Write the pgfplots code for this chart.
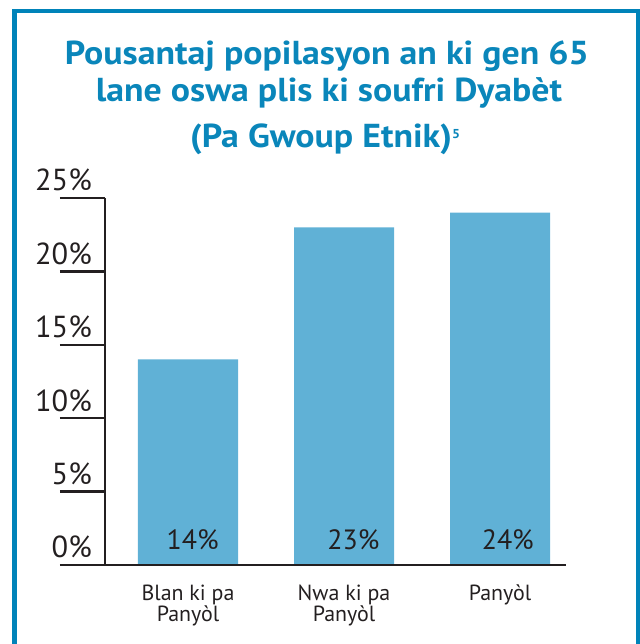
\documentclass[border=0pt]{standalone}
\usepackage{pgfplots}
\pgfplotsset{compat=1.18}
\usepackage{fontspec}
\setmainfont{PT Sans}
\newfontfamily\titlefont[FakeStretch=1.08]{PT Sans}
\definecolor{frameblue}{HTML}{0083B9}
\definecolor{titleblue}{HTML}{0A86BA}
\definecolor{barblue}{HTML}{60B1D6}
\definecolor{ink}{HTML}{231F20}
\begin{document}
\begin{tikzpicture}[x=1bp,y=1bp]
\path[use as bounding box] (0,0) rectangle (640,644);
\draw[frameblue, line width=4.5bp, line join=miter] (14.7,-20) -- (14.7,633.2) -- (638.2,633.2) -- (638.2,-20);
\begin{scope}[every node/.style={anchor=base, text=titleblue, font=\titlefont\bfseries\fontsize{33.3}{36}\selectfont, inner sep=0pt}]
\node at (327,579) {Pousantaj popilasyon an ki gen 65};
\node at (329,542) {lane oswa plis ki soufri Dyabèt};
\node at (325,496) {(Pa Gwoup Etnik)\raisebox{9bp}{\fontsize{13}{13}\selectfont 5}};
\end{scope}
\begin{axis}[
  at={(105bp,79bp)}, anchor=south west,
  scale only axis, width=461bp, height=367bp,
  xmin=-0.532, xmax=2.423, ymin=0, ymax=25,
  axis x line*=bottom, axis y line*=left,
  axis line style={ink, line width=2.2bp},
  axis on top, clip=false,
  ybar, bar width=100bp,
  ytick={0,5,10,15,20,25},
  yticklabels={0\%,5\%,10\%,15\%,20\%,25\%},
  tick align=outside, major tick length=45bp,
  ytick style={ink, line width=2.3bp},
  xtick={0,1,2},
  xticklabels={{Blan ki pa\\Panyòl},{Nwa ki pa\\Panyòl},{Panyòl}},
  xtick style={draw=none},
  yticklabel style={font=\fontsize{30.5}{31}\selectfont, text=ink, anchor=base east, inner sep=0pt, xshift=32bp, yshift=7bp},
  xticklabel style={font=\fontsize{22}{20}\selectfont, text=ink, align=center, anchor=north, inner sep=0pt, yshift=25bp},
  /pgf/number format/assume math mode=true,
]
\addplot[fill=barblue, draw=none] coordinates {(0,14) (1,23) (2,24)};
\begin{scope}[every node/.style={anchor=base, font=\fontsize{28}{30}\selectfont, text=ink, inner sep=0pt}]
\node[yshift=15bp] at (axis cs:0.03,0) {14\%};
\node[yshift=15bp] at (axis cs:1.06,0) {23\%};
\node[yshift=15bp] at (axis cs:2.05,0) {24\%};
\end{scope}
\end{axis}
\end{tikzpicture}
\end{document}
